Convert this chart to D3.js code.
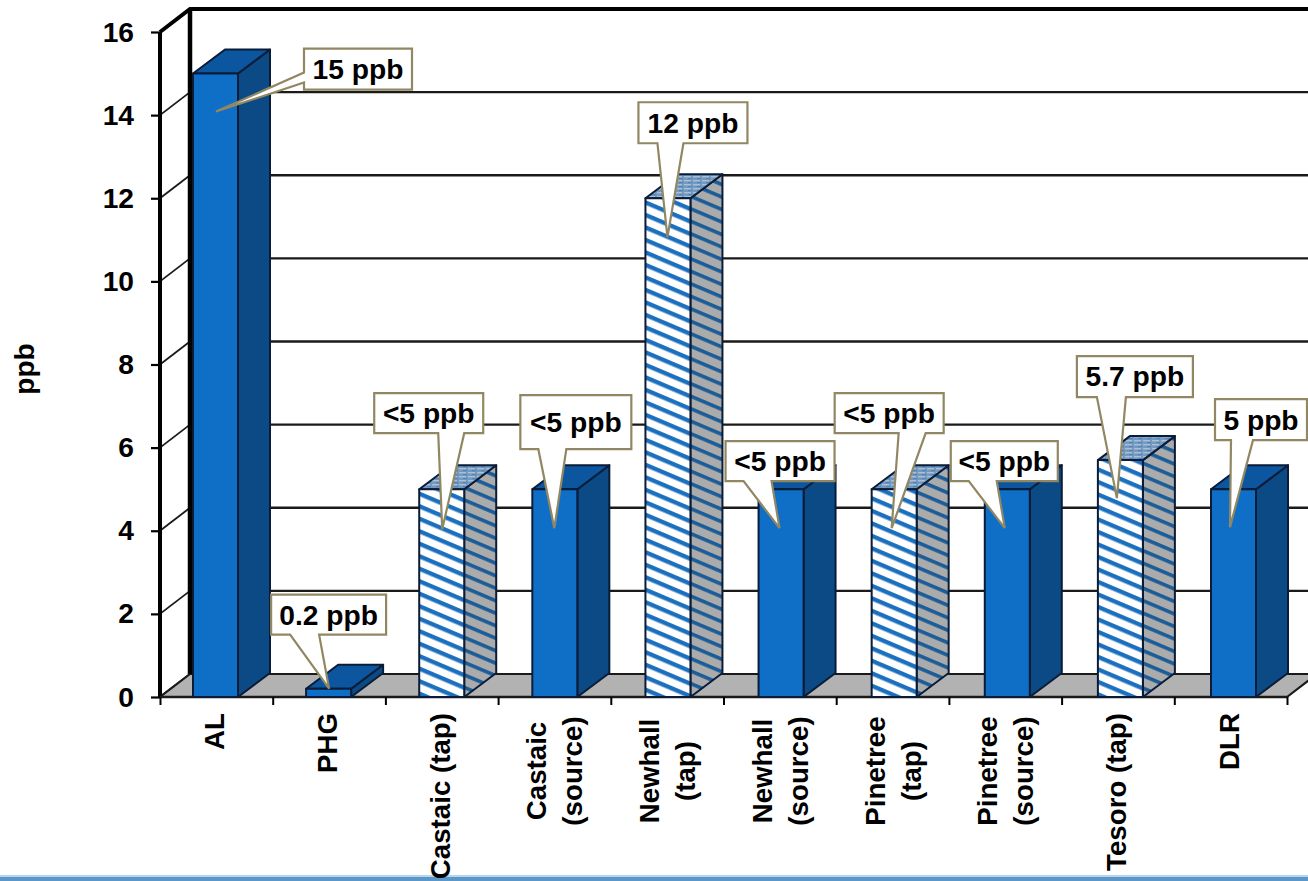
<!DOCTYPE html>
<html>
<head>
<meta charset="utf-8">
<title>Concentration by site (ppb)</title>
<script src="https://cdn.jsdelivr.net/npm/d3@7/dist/d3.min.js"></script>
<style>
  html, body { margin: 0; padding: 0; background: #fff; overflow: hidden; }
  svg { display: block; }
  text { font-family: "Liberation Sans", Arial, sans-serif; font-weight: 700; fill: #000; }
</style>
</head>
<body>
<svg id="chart" width="1308" height="881"></svg>
<script>
// Chart data
const categoryLines = [
  ["AL"], ["PHG"], ["Castaic (tap)"], ["Castaic", "(source)"], ["Newhall", "(tap)"],
  ["Newhall", "(source)"], ["Pinetree", "(tap)"], ["Pinetree", "(source)"], ["Tesoro (tap)"], ["DLR"]
];
const values = [15, 0.2, 5, 5, 12, 5, 5, 5, 5.7, 5];
const tapSample = [false, false, true, false, true, false, true, false, true, false];
const calloutLabels = ["15 ppb", "0.2 ppb", "<5 ppb", "<5 ppb", "12 ppb", "<5 ppb", "<5 ppb", "<5 ppb", "5.7 ppb", "5 ppb"];
const yTickValues = [0, 2, 4, 6, 8, 10, 12, 14, 16];
const yAxisTitle = "ppb";

// Callout geometry, relative to the top-left front corner of each bar:
// box offset and size, tail base offsets along the box edge, tail tip offset.
const calloutLayout = [
  { x: 111, y: -25, w: 108, h: 41, side: "left", a: 24, b: 34, tx: 23, ty: 38 },
  { x: -35, y: -94, w: 115, h: 40, side: "bottom", a: 19, b: 48, tx: 23, ty: 0 },
  { x: -45, y: -96, w: 109, h: 40, side: "bottom", a: 64, b: 90, tx: 23, ty: 40 },
  { x: -12, y: -94, w: 111, h: 54, side: "bottom", a: 18, b: 46, tx: 22, ty: 39 },
  { x: -7, y: -96, w: 109, h: 41, side: "bottom", a: 19, b: 45, tx: 22, ty: 39 },
  { x: -33, y: -48, w: 109, h: 40, side: "bottom", a: 18, b: 46, tx: 21, ty: 39 },
  { x: -37, y: -96, w: 109, h: 40, side: "bottom", a: 64, b: 91, tx: 20, ty: 39 },
  { x: -34, y: -48, w: 107, h: 40, side: "bottom", a: 18, b: 46, tx: 20, ty: 39 },
  { x: -21, y: -104, w: 116, h: 41, side: "bottom", a: 20, b: 49, tx: 19, ty: 38 },
  { x: 4, y: -90, w: 92, h: 41, side: "bottom", a: 16, b: 38, tx: 19, ty: 38 }
];

// Layout
const W = 1308;
const FONT = 28.2;
const CATEGORY_FONT = 27.7;
const FLOOR_DX = 30, FLOOR_DY = 23;   // depth of the wall/floor box
const BAR_DX = 32, BAR_DY = 24;       // depth of each bar
const BAR_W = 45;

const svg = d3.select("#chart");
const y = d3.scaleLinear().domain([0, 16]).range([697, 32]);
const xEdge = d3.scaleLinear().domain([0, categoryLines.length]).range([160, 1287]);
const xBar = d3.scaleLinear().domain([0, categoryLines.length - 1]).range([193, 1211]);

const C = {
  front: "#0f6fc6", side: "#0b4a84", top: "#0b569f", edge: "#0a1c38",
  hatch: "#1a6fbe", hatchSide: "#1a5c98", grey: "#b2b2b2", dark: "#1a1a1a",
  callout: "#918763", rule: "#5b97c9", ruleLight: "#b9d5ec"
};

// Fill patterns for the tap samples
const defs = svg.append("defs");
function stripes(id, bg, fg, thickness) {
  const p = defs.append("pattern").attr("id", id).attr("patternUnits", "userSpaceOnUse")
    .attr("width", 11.5).attr("height", 11.5).attr("patternTransform", "rotate(23)");
  p.append("rect").attr("width", 11.5).attr("height", 11.5).attr("fill", bg);
  p.append("rect").attr("y", 1).attr("width", 11.5).attr("height", thickness).attr("fill", fg);
}
stripes("stripeFront", "#fff", C.hatch, 4.3);
stripes("stripeSide", "#ababab", C.hatchSide, 3.6);
const speckle = defs.append("pattern").attr("id", "speckle").attr("patternUnits", "userSpaceOnUse")
  .attr("width", 9).attr("height", 4);
speckle.append("rect").attr("width", 9).attr("height", 4).attr("fill", "#7199c2");
speckle.append("rect").attr("x", 0).attr("y", 0).attr("width", 7).attr("height", 1.4).attr("fill", "#aebfd2");
speckle.append("rect").attr("x", 4).attr("y", 2).attr("width", 4).attr("height", 1.2).attr("fill", "#5484b5");

// Side wall rungs, back wall gridlines and frame
const inner = yTickValues.slice(0, -1);
svg.append("g").selectAll("line").data(inner).join("line")
  .attr("x1", xEdge(0)).attr("y1", d => y(d))
  .attr("x2", xEdge(0) + FLOOR_DX).attr("y2", d => y(d) - FLOOR_DY)
  .attr("stroke", C.dark).attr("stroke-width", 1.8);

svg.append("g").selectAll("line").data(yTickValues.slice(1, -1)).join("line")
  .attr("x1", xEdge(0) + FLOOR_DX).attr("x2", W)
  .attr("y1", d => y(d) - FLOOR_DY).attr("y2", d => y(d) - FLOOR_DY)
  .attr("stroke", C.dark).attr("stroke-width", 2.4);

// Floor
svg.append("path")
  .attr("d", d3.line()([
    [xEdge(0), y(0)], [xEdge(10), y(0)],
    [xEdge(10) + FLOOR_DX, y(0) - FLOOR_DY], [xEdge(0) + FLOOR_DX, y(0) - FLOOR_DY]
  ]) + "Z")
  .attr("fill", C.grey).attr("stroke", C.dark).attr("stroke-width", 2.2);

// Top and back edges of the wall box
svg.append("path")
  .attr("d", d3.line()([
    [xEdge(0), y(16)], [xEdge(0) + FLOOR_DX, y(16) - FLOOR_DY], [W, y(16) - FLOOR_DY]
  ]))
  .attr("fill", "none").attr("stroke", "#000").attr("stroke-width", 4);
svg.append("line")
  .attr("x1", xEdge(0) + FLOOR_DX).attr("x2", xEdge(0) + FLOOR_DX)
  .attr("y1", y(16) - FLOOR_DY).attr("y2", y(0) - FLOOR_DY)
  .attr("stroke", "#000").attr("stroke-width", 4.5);

// Axes
const yAxis = svg.append("g").attr("transform", `translate(${xEdge(0)},0)`)
  .call(d3.axisLeft(y).tickValues(yTickValues).tickSize(9).tickPadding(17).tickFormat(d3.format("d")));
yAxis.select(".domain").attr("stroke", "#000").attr("stroke-width", 4).attr("d", `M0,${y(16)}V${y(0)}`);
yAxis.selectAll(".tick line").attr("stroke", "#000").attr("stroke-width", 2.2);
yAxis.selectAll(".tick text").attr("font-size", FONT).attr("font-family", null);

const xAxis = svg.append("g").attr("transform", `translate(0,${y(0)})`)
  .call(d3.axisBottom(xEdge).tickValues(d3.range(categoryLines.length + 1)).tickSize(8).tickFormat(""));
xAxis.select(".domain").attr("stroke", C.dark).attr("stroke-width", 2.5).attr("d", `M${xEdge(0)},0H${xEdge(10)}`);
xAxis.selectAll(".tick line").attr("stroke", "#000").attr("stroke-width", 2);

// Bars, drawn as a front face, side face and top face
const bars = svg.append("g").selectAll("g").data(values).join("g");
function face(sel, pts, fill) {
  sel.append("path").attr("d", (d, i) => d3.line()(pts(d, i)) + "Z")
    .attr("fill", fill).attr("stroke", C.edge).attr("stroke-width", 2).attr("stroke-linejoin", "round");
}
face(bars, (d, i) => [
  [xBar(i) + BAR_W, y(d)], [xBar(i) + BAR_W + BAR_DX, y(d) - BAR_DY],
  [xBar(i) + BAR_W + BAR_DX, y(0) - BAR_DY], [xBar(i) + BAR_W, y(0)]
], (d, i) => tapSample[i] ? "url(#stripeSide)" : C.side);
face(bars, (d, i) => [
  [xBar(i), y(d)], [xBar(i) + BAR_DX, y(d) - BAR_DY],
  [xBar(i) + BAR_W + BAR_DX, y(d) - BAR_DY], [xBar(i) + BAR_W, y(d)]
], (d, i) => tapSample[i] ? "url(#speckle)" : C.top);
face(bars, (d, i) => [
  [xBar(i), y(d)], [xBar(i) + BAR_W, y(d)], [xBar(i) + BAR_W, y(0)], [xBar(i), y(0)]
], (d, i) => tapSample[i] ? "url(#stripeFront)" : C.front);

// Rule along the foot of the page, beneath the labels
svg.append("rect").attr("x", 0).attr("y", 875).attr("width", W).attr("height", 2).attr("fill", C.ruleLight);
svg.append("rect").attr("x", 0).attr("y", 877).attr("width", W).attr("height", 4).attr("fill", C.rule);

// Category labels, rotated and stacked across the band
const catG = svg.append("g").selectAll("g").data(categoryLines).join("g")
  .attr("transform", (d, i) => {
    const mid = (xEdge(i) + xEdge(i + 1)) / 2;
    return d.length > 1 ? `translate(${mid},771) rotate(-90)` : `translate(${mid - 2},713) rotate(-90)`;
  });
catG.selectAll("text").data(d => d.map((t, k) => ({ t, k, n: d.length }))).join("text")
  .attr("text-anchor", d => d.n > 1 ? "middle" : "end")
  .attr("font-size", CATEGORY_FONT)
  .attr("y", d => (d.k - (d.n - 1) / 2) * 36 + CATEGORY_FONT * 0.36)
  .text(d => d.t);

// Axis title
svg.append("text").attr("transform", "translate(34,369) rotate(-90)")
  .attr("text-anchor", "middle").attr("font-size", FONT).text(yAxisTitle);

// Value callouts
function calloutPath(d, i) {
  const l = calloutLayout[i];
  const bx = xBar(i), by = y(d);
  const L = bx + l.x, T = by + l.y, R = L + l.w, B = T + l.h;
  const tip = [bx + l.tx, by + l.ty];
  const pts = l.side === "left"
    ? [[L, T], [R, T], [R, B], [L, B], [L, T + l.b], tip, [L, T + l.a]]
    : [[L, T], [R, T], [R, B], [L + l.b, B], tip, [L + l.a, B], [L, B]];
  return d3.line()(pts) + "Z";
}
const callouts = svg.append("g").selectAll("g").data(values).join("g");
callouts.append("path").attr("d", calloutPath)
  .attr("fill", "#fff").attr("stroke", C.callout).attr("stroke-width", 2.2).attr("stroke-linejoin", "miter");
callouts.append("text")
  .attr("x", (d, i) => xBar(i) + calloutLayout[i].x + calloutLayout[i].w / 2)
  .attr("y", (d, i) => y(d) + calloutLayout[i].y + calloutLayout[i].h / 2 + FONT * 0.35)
  .attr("text-anchor", "middle").attr("font-size", FONT)
  .text((d, i) => calloutLabels[i]);
</script>
</body>
</html>
